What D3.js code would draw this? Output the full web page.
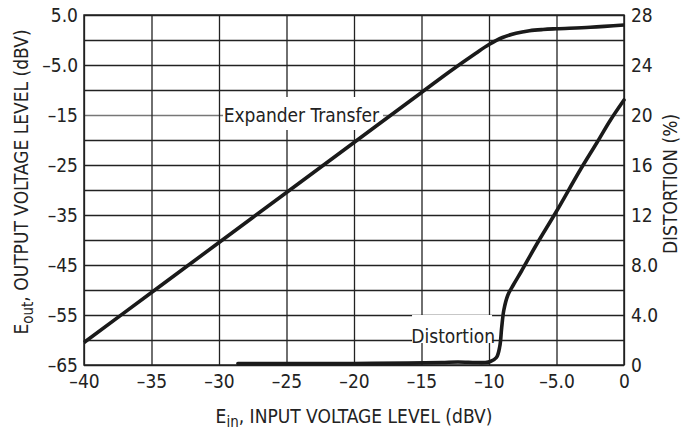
<!DOCTYPE html>
<html>
<head>
<meta charset="utf-8">
<script src="https://cdn.jsdelivr.net/npm/d3@7"></script>
<style>
  body { margin: 0; background: #fff; }
  text { font-family: "Liberation Sans Narrow", "Arial Narrow", "DejaVu Sans Condensed", sans-serif; fill: #222; }
</style>
</head>
<body>
<div id="chart"></div>
<script>
//set the dimensions and margins of the graph
const width = 693;
const height = 431;
const margin = { top: 15, right: 69, bottom: 66, left: 84 };
const plotW = width - margin.left - margin.right;
const plotH = height - margin.top - margin.bottom;

//x axis ticks (input level, dBV)
const xTicks = [-40, -35, -30, -25, -20, -15, -10, -5, 0];
const xTickLabels = ["–40", "–35", "–30", "–25", "–20", "–15", "–10", "–5.0", "0"];

//left axis ticks (output level, dBV)
const yGrid = [5, 0, -5, -10, -15, -20, -25, -30, -35, -40, -45, -50, -55, -60, -65];
const yTicks = [5, -5, -15, -25, -35, -45, -55, -65];
const yTickLabels = ["5.0", "–5.0", "–15", "–25", "–35", "–45", "–55", "–65"];

//right axis ticks (distortion, %)
const distTicks = [0, 4, 8, 12, 16, 20, 24, 28];
const distTickLabels = ["0", "4.0", "8.0", "12", "16", "20", "24", "28"];

//expander transfer curve
const transferIn = [-40, -35, -30, -25, -20, -15, -12.9, -11, -10, -9, -8, -7, -6, -5, -2.5, 0];
const transferOut = [-60.5, -50.5, -40.5, -30.5, -20.5, -10.5, -6.3, -2.7, -0.9, 0.5, 1.35, 1.85, 2.1, 2.25, 2.55, 3.0];

//distortion curve
const distIn = [-28.6, -24, -20, -16, -13.5, -12.3, -11, -10.3, -9.9, -9.45, -9.2, -9.06, -8.9, -8.6, -8.2, -7.6, -6.5, -5.0, -3.3, -2.0, -1.0, 0];
const distPct = [0.12, 0.12, 0.12, 0.15, 0.2, 0.24, 0.2, 0.2, 0.28, 0.6, 1.5, 3.0, 4.4, 5.6, 6.4, 7.5, 9.6, 12.3, 15.5, 17.8, 19.6, 21.2];

const svg = d3
  .select("#chart")
  .append("svg")
  .attr("width", width)
  .attr("height", height);

const g = svg.append("g").attr("transform", `translate(${margin.left},${margin.top})`);

//scales
const xScale = d3.scaleLinear().domain([-40, 0]).range([0, plotW]);
const yScale = d3.scaleLinear().domain([-65, 5]).range([plotH, 0]);
const dScale = d3.scaleLinear().domain([0, 28]).range([plotH, 0]);

//horizontal grid lines
g.append("g")
  .attr("class", "y-grid")
  .call(d3.axisLeft(yScale).tickValues(yGrid).tickSize(-plotW).tickFormat(""))
  .call((s) => s.select(".domain").remove())
  .selectAll("line")
  .attr("stroke", (d) => (d === -15 ? "#777" : "#222"))
  .attr("stroke-width", 1.3);

//vertical grid lines
g.append("g")
  .attr("class", "x-grid")
  .attr("transform", `translate(0,${plotH})`)
  .call(d3.axisBottom(xScale).tickValues(xTicks).tickSize(-plotH).tickFormat(""))
  .call((s) => s.select(".domain").remove())
  .selectAll("line")
  .attr("stroke", "#222")
  .attr("stroke-width", 1.3);

//frame
g.append("rect")
  .attr("width", plotW)
  .attr("height", plotH)
  .attr("fill", "none")
  .attr("stroke", "#222")
  .attr("stroke-width", 1.5);

//tick labels
const fontSize = "19px";

g.append("g")
  .attr("transform", `translate(0,${plotH})`)
  .call(d3.axisBottom(xScale).tickValues(xTicks).tickSize(0).tickPadding(10).tickFormat((d, i) => xTickLabels[i]))
  .call((s) => s.select(".domain").remove())
  .selectAll("text")
  .attr("font-size", fontSize)
  .attr("font-family", null);

g.append("g")
  .call(d3.axisLeft(yScale).tickValues(yTicks).tickSize(0).tickPadding(6).tickFormat((d, i) => yTickLabels[i]))
  .call((s) => s.select(".domain").remove())
  .selectAll("text")
  .attr("font-size", fontSize)
  .attr("font-family", null);

g.append("g")
  .attr("transform", `translate(${plotW},0)`)
  .call(d3.axisRight(dScale).tickValues(distTicks).tickSize(0).tickPadding(7).tickFormat((d, i) => distTickLabels[i]))
  .call((s) => s.select(".domain").remove())
  .selectAll("text")
  .attr("font-size", fontSize)
  .attr("font-family", null);

//curve labels with white boxes (drawn under the curves)
function curveLabel(text, cx, baseline, box) {
  g.append("rect")
    .attr("x", box[0])
    .attr("y", box[1])
    .attr("width", box[2])
    .attr("height", box[3])
    .attr("fill", "#fff");
  g.append("text")
    .attr("x", cx)
    .attr("y", baseline)
    .attr("text-anchor", "middle")
    .attr("font-size", fontSize)
    .text(text);
}
curveLabel("Expander Transfer", xScale(-23.9), yScale(-16.3), [xScale(-29.7), yScale(-11.4), 160, 33]);
curveLabel("Distortion", xScale(-12.65), dScale(1.8), [xScale(-15.7), dScale(4), 80, 28]);

//curves
const transferLine = d3
  .line()
  .x((d) => xScale(d[0]))
  .y((d) => yScale(d[1]))
  .curve(d3.curveCatmullRom.alpha(0.5));

g.append("path")
  .datum(transferIn.map((v, i) => [v, transferOut[i]]))
  .attr("d", transferLine)
  .attr("fill", "none")
  .attr("stroke", "#1a1a1a")
  .attr("stroke-width", 3.6);

const distLine = d3
  .line()
  .x((d) => xScale(d[0]))
  .y((d) => dScale(d[1]))
  .curve(d3.curveCatmullRom.alpha(0.5));

g.append("path")
  .datum(distIn.map((v, i) => [v, distPct[i]]))
  .attr("d", distLine)
  .attr("fill", "none")
  .attr("stroke", "#1a1a1a")
  .attr("stroke-width", 3.6)
  .attr("stroke-linecap", "round");

//x-axis label
const xLabel = svg
  .append("text")
  .attr("x", margin.left + plotW / 2)
  .attr("y", 423)
  .attr("text-anchor", "middle")
  .attr("font-size", fontSize);
xLabel.append("tspan").text("E");
xLabel.append("tspan").attr("dy", 4).attr("font-size", "15px").text("in");
xLabel.append("tspan").attr("dy", -4).text(", INPUT VOLTAGE LEVEL (dBV)");

//y-axis label (left)
const yLabel = svg
  .append("text")
  .attr("transform", "translate(28,182) rotate(-90)")
  .attr("text-anchor", "middle")
  .attr("font-size", fontSize);
yLabel.append("tspan").text("E");
yLabel.append("tspan").attr("dy", 5).attr("font-size", "15px").text("out");
yLabel.append("tspan").attr("dy", -5).text(", OUTPUT VOLTAGE LEVEL (dBV)");

//y-axis label (right)
svg
  .append("text")
  .attr("transform", "translate(677,184) rotate(-90)")
  .attr("text-anchor", "middle")
  .attr("font-size", fontSize)
  .text("DISTORTION (%)");
</script>
</body>
</html>
